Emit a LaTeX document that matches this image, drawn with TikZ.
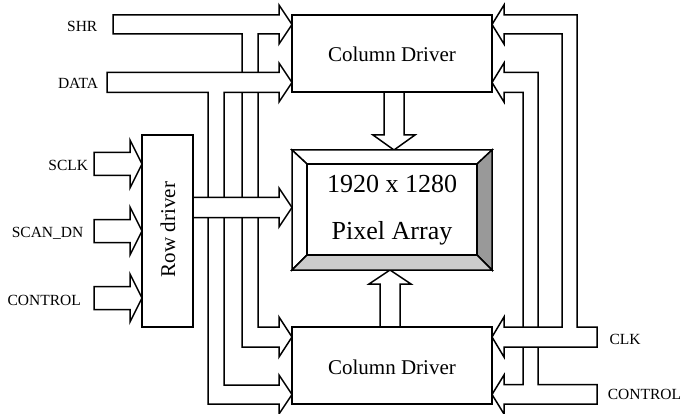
\documentclass[tikz,border=0pt]{standalone}
\usepackage{fontspec}
\setmainfont{Liberation Serif}
\begin{document}
\begin{tikzpicture}[x=1pt,y=-1pt,
  bus/.style={draw=black, fill=white, line width=1.5pt, line join=miter},
  blockbox/.style={draw=black, fill=white, line width=1.5pt, inner sep=0pt},
  lbl/.style={font=\fontsize{15.5}{18}\selectfont, inner sep=0pt},
  big/.style={font=\fontsize{21}{24}\selectfont, inner sep=0pt},
  huge/.style={font=\fontsize{26}{30}\selectfont, inner sep=0pt}]
\definecolor{pxdark}{HTML}{999999}
\definecolor{pxlight}{HTML}{CCCCCC}
\useasboundingbox (0,0) rectangle (685,414);
\fill[white] (0,0) rectangle (685,414);

% SHR bus (top-left, feeds both column drivers)
\draw[bus] (113,15) -- (279,15) -- (279,5) -- (292,24.5) -- (279,44) -- (279,34)
  -- (258,34) -- (258,327) -- (279,327) -- (279,317) -- (292,337) -- (279,357)
  -- (279,347) -- (242,347) -- (242,34) -- (113,34) -- cycle;
% DATA bus
\draw[bus] (107,72.5) -- (279,72.5) -- (279,63) -- (292,82.5) -- (279,102) -- (279,92.5)
  -- (224,92.5) -- (224,385) -- (279,385) -- (279,375) -- (292,394.5) -- (279,414)
  -- (279,404) -- (208,404) -- (208,92.5) -- (107,92.5) -- cycle;
% CONTROL bus (right)
\draw[bus] (597,384.5) -- (597,404) -- (504,404) -- (504,414) -- (492,394.5) -- (504,375)
  -- (504,384.5) -- (523,384.5) -- (523,92.5) -- (504,92.5) -- (504,102) -- (492,82.5)
  -- (504,63) -- (504,72.5) -- (538,72.5) -- (538,384.5) -- cycle;
% CLK bus (right)
\draw[bus] (597,327) -- (597,347) -- (504,347) -- (504,357) -- (492,337) -- (504,317)
  -- (504,327) -- (562,327) -- (562,34) -- (504,34) -- (504,44) -- (492,24.5)
  -- (504,5) -- (504,15) -- (577,15) -- (577,327) -- cycle;

% Row driver output
\draw[bus] (193,197.5) -- (279,197.5) -- (279,188) -- (292,207.5) -- (279,227)
  -- (279,217.5) -- (193,217.5) -- cycle;

% inputs to row driver
\foreach \c in {164,231,298}{
  \draw[bus] (94,\c-11.5) -- (130,\c-11.5) -- (130,\c-24) -- (142,\c) -- (130,\c+24)
    -- (130,\c+11.5) -- (94,\c+11.5) -- cycle;
}

% column driver -> pixel array
\draw[bus] (384,92) -- (404,92) -- (404,135) -- (415,135) -- (394,150) -- (373,135)
  -- (384,135) -- cycle;
% pixel array -> bottom column driver (up)
\draw[bus] (380,327) -- (400,327) -- (400,284) -- (411,284) -- (390,270) -- (369,284)
  -- (380,284) -- cycle;

% boxes
\node[blockbox, minimum width=200pt, minimum height=77pt] (cdtop) at (392,53.5) {};
\node[big, anchor=base] (cdtoptext) at (cdtop.center |- 0,61.5) {Column Driver};
\node[blockbox, minimum width=200pt, minimum height=77pt] (cdbot) at (392,365.5) {};
\node[big, anchor=base] (cdbottext) at (cdbot.center |- 0,374.5) {Column Driver};
\node[blockbox, minimum width=51pt, minimum height=192pt] (rowdrv) at (167.5,231) {};
\node[big, rotate=90, anchor=base] (rowtext) at (175,229.5) {Row driver};

% pixel array with bevel
\draw[line width=1.5pt, line join=miter, fill=white] (292,150) -- (492,150) -- (477,164) -- (307,164) -- cycle;
\draw[line width=1.5pt, line join=miter, fill=white] (292,150) -- (307,164) -- (307,255) -- (292,270) -- cycle;
\draw[line width=1.5pt, line join=miter, fill=pxdark] (492,150) -- (492,270) -- (477,255) -- (477,164) -- cycle;
\draw[line width=1.5pt, line join=miter, fill=pxlight] (292,270) -- (492,270) -- (477,255) -- (307,255) -- cycle;
\node[draw=black, line width=1.5pt, fill=white, minimum width=170pt, minimum height=91pt, inner sep=0pt] (pix) at (392,209.5) {};
\node[huge, anchor=base] (pixt1) at (392,193) {1920 x 1280};
\node[huge, anchor=base] (pixt2) at (392,239.5) {Pixel Array};

% labels
\node[lbl, anchor=base east] (lshr) at (97.5,31.7) {SHR};
\node[lbl, anchor=base east] (ldata) at (98.3,88.3) {DATA};
\node[lbl, anchor=base east] (lsclk) at (88.3,170.7) {SCLK};
\node[lbl, anchor=base east] (lscan) at (83.5,237.3) {SCAN\_DN};
\node[lbl, anchor=base east] (lctl) at (81,305) {CONTROL};
\node[lbl, anchor=base west] (lclk) at (609.3,344) {CLK};
\node[lbl, anchor=base west] (lctr) at (607.7,399.3) {CONTROL};
\end{tikzpicture}
\end{document}
